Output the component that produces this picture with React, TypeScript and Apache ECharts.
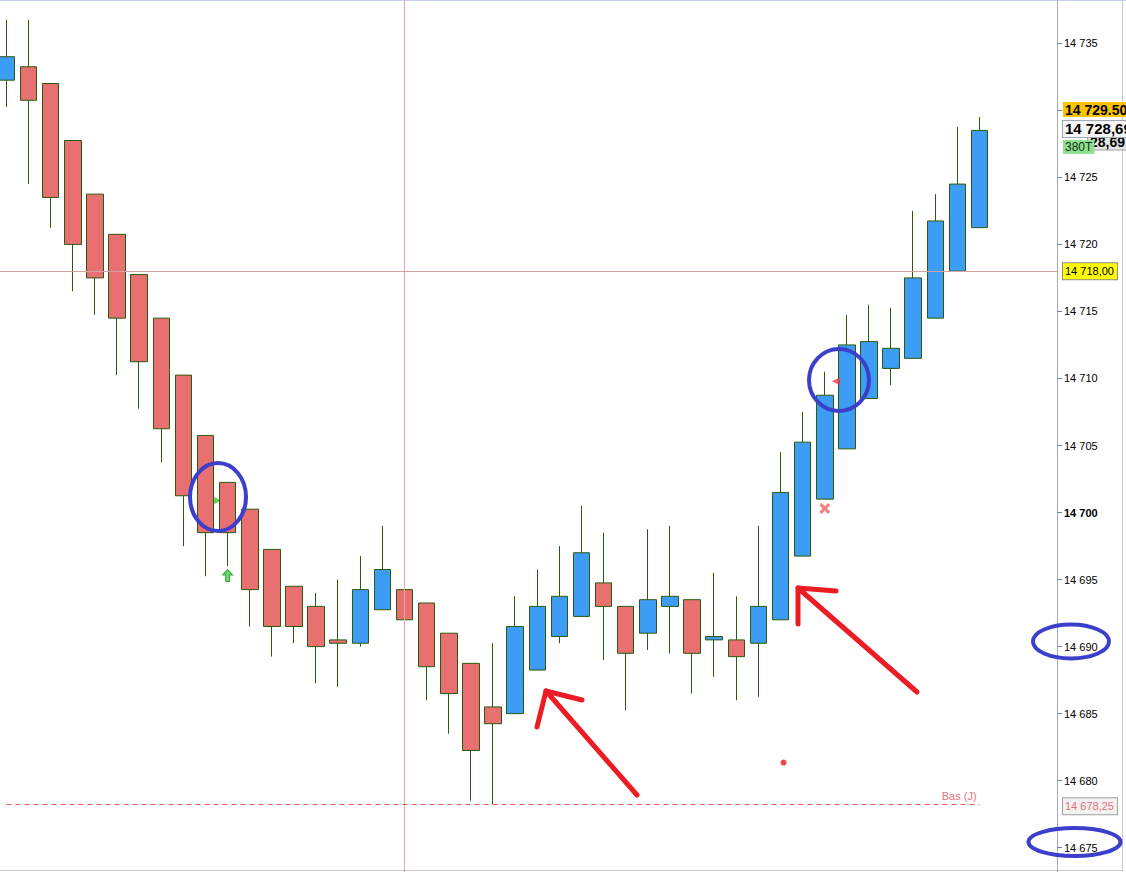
import { useEffect, useRef } from 'react';
import * as echarts from 'echarts';

// 48 slots on the time axis, the last three are still empty
const categories = Array.from({ length: 48 }, (_, i) => String(i + 1));

const opens = [
  14732.25, 14733.25, 14732.0, 14727.75, 14723.75, 14720.75, 14717.75, 14714.5, 14710.25, 14705.75,
  14702.25, 14700.25, 14697.25, 14694.5, 14693.0, 14690.5, 14690.25, 14692.75, 14694.25, 14693.25,
  14691.0, 14688.75, 14685.5, 14685.0, 14688.25, 14690.75, 14692.25, 14694.75, 14693.0, 14691.0,
  14693.0, 14693.5, 14690.5, 14690.5, 14690.25, 14692.0, 14696.75, 14701.0, 14704.75, 14708.5,
  14710.75, 14711.5, 14714.5, 14718.0, 14721.25,
];
const closes = [
  14734.0, 14730.75, 14723.5, 14720.0, 14717.5, 14714.5, 14711.25, 14706.25, 14701.25, 14698.5,
  14698.5, 14694.25, 14691.5, 14691.5, 14690.0, 14690.25, 14694.25, 14695.75, 14692.0, 14688.5,
  14686.5, 14682.25, 14684.25, 14691.5, 14693.0, 14693.75, 14697.0, 14693.0, 14689.5, 14693.5,
  14693.75, 14689.5, 14690.75, 14689.25, 14693.0, 14701.5, 14705.25, 14708.75, 14712.5, 14712.75,
  14712.25, 14717.5, 14721.75, 14724.5, 14728.5,
];
const lows = [
  14730.25, 14724.5, 14721.25, 14716.5, 14714.75, 14710.25, 14707.75, 14703.75, 14697.5, 14695.25,
  14696.0, 14691.5, 14689.25, 14690.25, 14687.25, 14687.0, 14690.0, 14692.75, 14686.5, 14686.0,
  14683.5, 14678.5, 14678.25, 14685.0, 14688.25, 14690.25, 14692.25, 14689.0, 14685.25, 14689.75,
  14689.5, 14686.5, 14687.75, 14686.0, 14686.25, 14692.0, 14696.75, 14701.0, 14704.75, 14708.5,
  14709.5, 14711.5, 14714.5, 14718.0, 14721.25,
];
const highs = [
  14736.75, 14736.75, 14732.0, 14727.75, 14723.75, 14720.75, 14717.75, 14714.5, 14710.25, 14705.75,
  14702.25, 14700.25, 14697.25, 14694.5, 14694.0, 14695.0, 14696.75, 14699.0, 14696.75, 14693.25,
  14691.0, 14688.75, 14690.25, 14693.75, 14695.75, 14697.5, 14700.5, 14698.5, 14693.0, 14698.75,
  14699.0, 14693.5, 14695.5, 14693.75, 14699.0, 14704.5, 14707.5, 14710.5, 14714.75, 14715.5,
  14715.25, 14722.5, 14723.75, 14728.75, 14729.5,
];

const yMin = 14670;
const yMax = 14740;
const yStep = 5;
const boldTick = 14700;

const refLevel = 14718;
const dayLow = 14678.25;
const lastPrice = 14728.69;
const sessionHigh = 14729.5;
const crosshairIndex = 18;

// signal markers [slot, price]
const upArrowMarks = [[10, 14695.3]];
const rightTriMarks = [[10, 14700.9]];
const leftTriMarks = [[38, 14709.8]];
const crossMarks = [[37, 14700.3]];
const dotMarks = [[35, 14681.35]];

const FONT = '"Liberation Sans", Arial, sans-serif';

const fmtPrice = (v: number) => {
  const s = String(Math.round(v));
  return s.slice(0, s.length - 3) + ' ' + s.slice(-3);
};

// empty helper series that only carries one reference line
const refLine = (data: any[], lineStyle: any, label: any = { show: false }) => ({
  type: 'line',
  data: [],
  silent: true,
  markLine: {
    silent: true,
    symbol: ['none', 'none'],
    animation: false,
    lineStyle,
    label,
    emphasis: { disabled: true },
    data,
  },
});

export default function App() {
  const chartRef = useRef<HTMLDivElement>(null);

  useEffect(() => {
    if (!chartRef.current) return;
    const chart = echarts.init(chartRef.current, null, { renderer: 'svg' });

    const candles = opens.map((o, i) => [o, closes[i], lows[i], highs[i]]);

    const option: any = {
      animation: false,
      backgroundColor: '#ffffff',
      grid: {
        outerBoundsMode: 'none',
        containLabel: false,
        left: -4.55,
        right: 69,
        top: -23.73,
        bottom: -42.73,
      },
      xAxis: {
        type: 'category',
        data: categories,
        show: false,
        boundaryGap: true,
      },
      yAxis: {
        type: 'value',
        position: 'right',
        min: yMin,
        max: yMax,
        interval: yStep,
        splitLine: { show: false },
        axisLine: { show: true, lineStyle: { color: '#a3abb3', width: 1 } },
        axisTick: { show: true, length: 5, lineStyle: { color: '#7a828a' } },
        axisLabel: {
          margin: 7,
          color: '#000',
          fontSize: 11,
          fontFamily: FONT,
          showMinLabel: false,
          showMaxLabel: false,
          formatter: (v: number) => (v === boldTick ? `{b|${fmtPrice(v)}}` : fmtPrice(v)),
          rich: { b: { fontWeight: 'bold', fontSize: 11, color: '#000', fontFamily: FONT } },
        },
      },
      series: [
        refLine([{ xAxis: crosshairIndex }], { color: '#f4a2a2', type: 'solid', width: 1 }),
        refLine([{ yAxis: refLevel }], { color: '#d8a0a0', type: 'solid', width: 1 }),
        refLine(
          [[{ coord: [0, dayLow] }, { coord: [44, dayLow] }]],
          { color: '#e85a5a', type: [5, 4], width: 1 },
          {
            show: true,
            position: 'insideEndTop',
            formatter: 'Bas (J)',
            color: '#e8707a',
            fontSize: 11,
            fontFamily: FONT,
            distance: 3,
          },
        ),
        {
          type: 'candlestick',
          data: candles,
          barWidth: 17,
          z: 3,
          itemStyle: {
            color: '#3d9cf3',
            color0: '#e97070',
            borderColor: '#2a5a0c',
            borderColor0: '#2a5a0c',
            borderWidth: 1,
          },
        },
        {
          type: 'scatter',
          data: upArrowMarks,
          symbol: 'path://M5 0 L10 5 L7 5 L7 11 L3 11 L3 5 L0 5 Z',
          symbolSize: [10, 12],
          itemStyle: { color: '#3dd43d', borderColor: '#1f8f1f', borderWidth: 1 },
          silent: true,
          z: 5,
        },
        {
          type: 'scatter',
          data: rightTriMarks,
          symbol: 'path://M0 0 L10 5 L0 10 Z',
          symbolSize: 7,
          symbolOffset: [-10, 0],
          itemStyle: { color: '#30c030' },
          silent: true,
          z: 1,
        },
        {
          type: 'scatter',
          data: leftTriMarks,
          symbol: 'path://M10 0 L0 5 L10 10 Z',
          symbolSize: 8,
          symbolOffset: [-11, 0],
          itemStyle: { color: '#e83a3a' },
          silent: true,
          z: 5,
        },
        {
          type: 'scatter',
          data: crossMarks,
          symbol: 'path://M2 0 L5 3 L8 0 L10 2 L7 5 L10 8 L8 10 L5 7 L2 10 L0 8 L3 5 L0 2 Z',
          symbolSize: 11,
          itemStyle: { color: '#f06262' },
          silent: true,
          z: 5,
        },
        {
          type: 'scatter',
          data: dotMarks,
          symbol: 'circle',
          symbolSize: 6,
          symbolOffset: [3, 0],
          itemStyle: { color: '#e8141c' },
          silent: true,
          z: 5,
        },
      ],
    };

    chart.setOption(option);

    const yPx = (v: number) => chart.convertToPixel({ yAxisIndex: 0 }, v) as number;
    const badgeX = 1063;

    const badge = (text: string, x: number, y: number, style: any) => ({
      type: 'text',
      z: 50,
      silent: true,
      style: {
        text,
        x,
        y,
        fill: '#000',
        verticalAlign: 'middle',
        fontFamily: FONT,
        ...style,
      },
    });

    const ellipse = (cx: number, cy: number, rx: number, ry: number) => ({
      type: 'ellipse',
      z: 100,
      silent: true,
      shape: { cx, cy, rx, ry },
      style: { fill: 'none', stroke: '#3b3fc9', lineWidth: 4 },
    });

    const arrowStyle = { fill: 'none', stroke: '#ec1c24', lineWidth: 5, lineCap: 'round', lineJoin: 'round' };
    const polyline = (points: number[][]) => ({
      type: 'polyline',
      z: 100,
      silent: true,
      shape: { points },
      style: arrowStyle,
    });

    const lastY = yPx(lastPrice);

    chart.setOption({
      graphic: [
        // chart frame
        { type: 'line', silent: true, shape: { x1: 0, y1: 0.5, x2: 1126, y2: 0.5 }, style: { stroke: '#c6cdf0', lineWidth: 1 } },
        { type: 'line', silent: true, shape: { x1: 0, y1: 870.5, x2: 1122, y2: 870.5 }, style: { stroke: '#c8c8c8', lineWidth: 1 } },
        { type: 'line', silent: true, shape: { x1: 1122.5, y1: 0, x2: 1122.5, y2: 871 }, style: { stroke: '#c8c8c8', lineWidth: 1 } },

        // price badges on the axis (the older last-price badge is mostly hidden)
        badge('28,69', 1088, lastY + 14, {
          fontSize: 14, fontWeight: 'bold', backgroundColor: '#e4e4e4',
          borderColor: '#a0a0a0', borderWidth: 1, padding: [1, 10, 0, 2],
        }),
        badge('14 729.50', badgeX, yPx(sessionHigh), {
          fontSize: 14, fontWeight: 'bold', backgroundColor: '#fbc400',
          verticalAlign: 'bottom', padding: [1, 20, 0, 2],
        }),
        badge('14 728,69', badgeX, lastY + 1, {
          fontSize: 15, fontWeight: 'bold', backgroundColor: '#f5f5f5',
          borderColor: '#a0a8b0', borderWidth: 1, padding: [1, 20, 0, 2],
        }),
        badge('380T', badgeX, lastY + 19, {
          fontSize: 12, fill: '#143014', backgroundColor: '#8ee08e', padding: [1, 2, 1, 2],
        }),
        badge('14 718,00', badgeX, yPx(refLevel), {
          fontSize: 11, backgroundColor: '#ffff00', borderColor: '#8a8a8a', borderWidth: 1, padding: [3, 3, 2, 2],
        }),
        badge('14 678,25', badgeX, yPx(dayLow) + 2, {
          fontSize: 11, fill: '#e8707a', backgroundColor: '#f2f2f2', borderColor: '#9aa0a0', borderWidth: 1, padding: [3, 3, 2, 2],
        }),

        // hand drawn annotations
        ellipse(218, 497, 28, 34),
        ellipse(839, 380, 30, 31),
        ellipse(1071, 641.5, 38, 17),
        ellipse(1074.5, 842, 46, 14),
        polyline([[637, 795], [546, 691]]),
        polyline([[537, 727], [546, 691], [582, 700]]),
        polyline([[917, 692], [798, 588]]),
        polyline([[798, 624], [798, 588], [836, 591]]),
      ],
    });

    return () => {
      chart.dispose();
    };
  }, []);

  return (
    <div
      ref={chartRef}
      style={{ position: 'fixed', left: 0, top: 0, width: 1126, height: 872 }}
    />
  );
}
